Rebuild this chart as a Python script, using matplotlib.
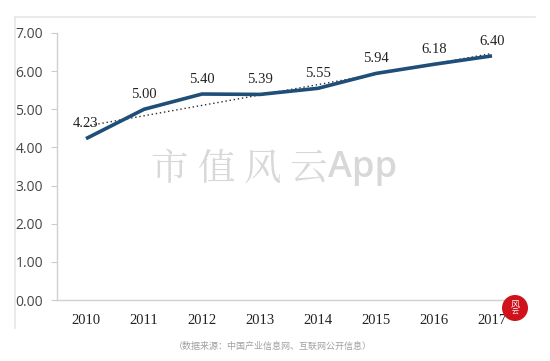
import numpy as np
import matplotlib.pyplot as plt
from matplotlib.patches import Ellipse
from matplotlib.lines import Line2D

years = ["2010", "2011", "2012", "2013", "2014", "2015", "2016", "2017"]
values = [4.23, 5.00, 5.40, 5.39, 5.55, 5.94, 6.18, 6.40]
yticks = [0, 1, 2, 3, 4, 5, 6, 7]
source_text = "（数据来源：中国产业信息网、互联网公开信息）"

W, H = 550, 361

plt.rcParams["font.family"] = ["Noto Sans CJK SC", "DejaVu Sans"]

fig = plt.figure(figsize=(W / 100, H / 100), dpi=100)
fig.patch.set_facecolor("white")

# light frame around the chart area
fig.add_artist(Line2D([15 / W, 535 / W], [1 - 17 / H, 1 - 17 / H],
                      color="#e6e6e6", lw=1.2, transform=fig.transFigure))
fig.add_artist(Line2D([15 / W, 15 / W], [1 - 17 / H, 1 - 328 / H],
                      color="#e6e6e6", lw=1.2, transform=fig.transFigure))

ax = fig.add_axes([57 / W, 1 - 300 / H, 464 / W, 267 / H])
x = np.arange(len(years))

# linear trend line (dotted)
coef = np.polyfit(x, values, 1)
ax.plot(x, np.polyval(coef, x), color="#2b2b2b", lw=1.0, ls=(0, (1, 2)), zorder=2)

ax.plot(x, values, color="#1f4e79", lw=2.6, solid_capstyle="butt", zorder=3)

for xi, v in zip(x, values):
    ax.annotate(f"{v:.2f}", (xi, v), xytext=(0, 6), textcoords="offset points",
                ha="center", va="bottom", fontsize=10.5, color="#222222",
                family="Liberation Serif", zorder=4)

ax.set_xlim(-0.5, len(years) - 0.5)
ax.set_ylim(0, 7)
ax.set_yticks(yticks)
ax.set_yticklabels([f"{t:.2f}" for t in yticks], family="Open Sans",
                   fontsize=10, color="#454545")
ax.set_xticks(x)
ax.set_xticklabels(years, family="Liberation Serif", fontsize=10.5, color="#222222")
ax.tick_params(axis="y", length=4, width=0.8, color="#cccccc", pad=6)
ax.tick_params(axis="x", length=0, pad=10)

for s in ["top", "right"]:
    ax.spines[s].set_visible(False)
for s in ["left", "bottom"]:
    ax.spines[s].set_color("#d0d0d0")
    ax.spines[s].set_linewidth(1.0)

# watermark, spaced characters
for ch, cx in zip("市值风云", [169, 217, 262, 308]):
    fig.text(cx / W, 1 - 170 / H, ch, ha="center", va="center", fontsize=27,
             color="#d8d8d8", family=["Noto Serif CJK SC", "Noto Sans CJK SC"], zorder=1)
fig.text(363 / W, 1 - 168 / H, "App", ha="center", va="center", fontsize=26,
         color="#d8d8d8", family="Open Sans", weight="semibold", zorder=1)

# source note
fig.text(273 / W, 1 - 346 / H, source_text, ha="center", va="center",
         fontsize=6.5, color="#a0a0a0")

# red seal
seal = Ellipse((515 / W, 1 - 308 / H), 26 / W, 26 / H, transform=fig.transFigure,
               facecolor="#d0121b", edgecolor="none", zorder=5)
fig.add_artist(seal)
fig.text(515 / W, 1 - 304 / H, "风", ha="center", va="center", fontsize=6.5,
         color="white", zorder=6)
fig.text(515 / W, 1 - 313 / H, "云", ha="center", va="center", fontsize=5,
         color="white", zorder=6)

fig.savefig("out.png", dpi=100, facecolor="white")
